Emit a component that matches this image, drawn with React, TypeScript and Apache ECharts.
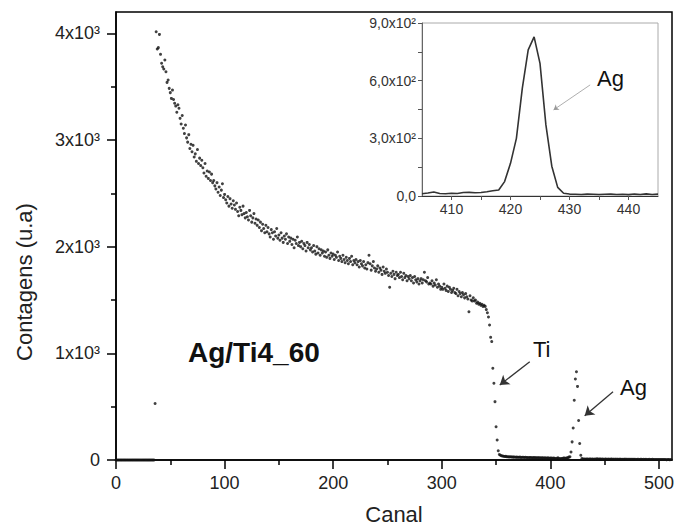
import React, { useEffect, useRef } from 'react';
import * as echarts from 'echarts';

// Channel segments (start channel + counts)
const leadStart = 0;
const leadCounts = [0,0,0,0,0,0,0,0,0,0,0,0,0,0,0,0,0,0,0,0,0,0,0,0,0,0,0,0,0,0,0,0,0,0,0,0];
const tiStart = 36;
const tiCounts = [
  530, 4015, 3853, 3866, 3990, 3803, 3720, 3687, 3665, 3750, 3640, 3540, 3562, 3484, 3444, 3390, 3468, 3380, 3344, 3318, 3260, 3330, 3297, 3203,
  3150, 3230, 3110, 3060, 3140, 3020, 2980, 3050, 2920, 2960,
  2890, 2950, 2840, 2870, 2800, 2910, 2780, 2830, 2760, 2810,
  2740, 2690, 2780, 2660, 2710, 2640, 2700, 2620, 2680, 2600,
  2620, 2570, 2540, 2600, 2510, 2560, 2480, 2530, 2590, 2460,
  2490, 2440, 2410, 2470, 2380, 2450, 2400, 2360, 2430, 2390,
  2350, 2410, 2330, 2290, 2370, 2340, 2300, 2380, 2310, 2270,
  2320, 2280, 2250, 2340, 2290, 2230, 2270, 2310, 2220, 2260,
  2200, 2250, 2180, 2230, 2150, 2210, 2170, 2130, 2200, 2140,
  2180, 2120, 2090, 2160, 2130, 2070, 2140, 2100, 2170, 2080,
  2110, 2060, 2130, 2080, 2040, 2100, 2070, 2120, 2030, 2090,
  2050, 2080, 2020, 2070, 1990, 2060, 2030, 2090, 2010, 2040,
  2000, 2050, 1980, 2030, 2010, 1960, 2040, 1990, 2020, 1970,
  1990, 1950, 2010, 1960, 1930, 2000, 1940, 1980, 1920, 1970,
  1940, 1960, 1910, 1950, 1900, 1970, 1920, 1890, 1940, 1910,
  1930, 1880, 1920, 1900, 1950, 1870, 1910, 1890, 1860, 1920,
  1880, 1850, 1900, 1870, 1840, 1890, 1860, 1910, 1830, 1870,
  1850, 1880, 1830, 1860, 1810, 1870, 1840, 1820, 1860, 1800,
  1830, 1790, 1850, 1920, 1840, 1780, 1820, 1860, 1800, 1770,
  1790, 1820, 1760, 1800, 1780, 1740, 1810, 1770, 1750, 1790,
  1760, 1730, 1620, 1750, 1720, 1770, 1740, 1700, 1760, 1730,
  1740, 1710, 1760, 1720, 1690, 1750, 1710, 1730, 1680, 1720,
  1700, 1730, 1680, 1710, 1660, 1720, 1690, 1670, 1700, 1650,
  1680, 1700, 1660, 1690, 1760, 1680, 1670, 1710, 1650, 1660,
  1650, 1680, 1630, 1660, 1640, 1690, 1620, 1650, 1630, 1600,
  1620, 1600, 1650, 1610, 1590, 1630, 1580, 1620, 1600, 1570,
  1590, 1610, 1570, 1560, 1600, 1540, 1580, 1560, 1530, 1570,
  1550, 1520, 1560, 1530, 1510, 1390, 1540, 1500, 1490, 1520,
  1490, 1500, 1470, 1480, 1460, 1470, 1450, 1460, 1440, 1450,
  1440, 1410, 1380, 1340, 1265, 1150, 1110, 860, 719, 547, 312, 187, 87, 52, 45, 40,
];
const gapStart = 356;
const gapCounts = [
  38, 35, 33, 34, 30, 31, 29, 30, 28, 29,
  27, 28, 26, 27, 25, 26, 27, 24, 25, 26,
  24, 25, 23, 24, 22, 24, 23, 21, 22, 23,
  21, 22, 20, 21, 22, 19, 20, 21, 19, 20,
  18, 19, 20, 17, 18, 19, 17, 18, 16,
  12, 16, 21, 13, 12, 14, 13, 18, 19, 17, 18, 22, 27, 31,
];
const agStart = 419;
const agCounts = [75, 170, 300, 560, 760, 828, 690, 370, 155, 45, 14];
const tailStart = 430;
const tailCounts = [
  10, 9, 8, 10, 9, 8, 9, 10, 8, 9,
  7, 10, 8, 11, 8, 10, 9, 8, 9, 7,
  8, 9, 7, 8, 8, 7, 9, 8, 7, 8,
  7, 8, 7, 6, 8, 7, 7, 6, 7, 8,
  6, 7, 7, 6, 7, 6, 6, 7, 6, 5,
  6, 6, 5, 7, 6, 5, 6, 5, 6, 5,
  5, 6, 5, 5, 6, 4, 5, 5, 4, 5,
  5, 4, 5, 4, 4, 5, 4, 3, 4, 4, 3, 4,
];

// Ticks
const xMajor = [0, 100, 200, 300, 400, 500];
const xMinor = [50, 150, 250, 350, 450];
const yMajor = [0, 1000, 2000, 3000, 4000];
const yMinor = [500, 1500, 2500, 3500];
const insetXLabels = [410, 420, 430, 440];
const insetXTicks = [410, 415, 420, 425, 430, 435, 440];
const insetYLabels = [0, 300, 600, 900];
const insetYTicks = [0, 150, 300, 450, 600, 750, 900];
const insetRange = [405, 445];

// Annotation arrows (data coordinates)
const tiArrow = [[381, 922], [353.4, 703]];
const agArrow = [[457.7, 640], [431.6, 415]];
const insetAgArrow = [[433.5, 578], [427.3, 448]];

const FONT = 'Liberation Sans, Arial, Helvetica, sans-serif';

function seg(start: number, arr: number[]) {
  return arr.map((c, k) => [start + k, c]);
}

export default function App() {
  const ref = useRef<HTMLDivElement>(null);
  useEffect(() => {
    const chart = echarts.init(ref.current!, null, { renderer: 'svg' });
    const mainData = [
      ...seg(leadStart, leadCounts),
      ...seg(tiStart, tiCounts),
      ...seg(gapStart, gapCounts),
      ...seg(agStart, agCounts),
      ...seg(tailStart, tailCounts),
    ];
    const insetData = mainData.filter((d) => d[0] >= insetRange[0] && d[0] <= insetRange[1]);
    const black = '#000';
    const mainRect = { left: 116, top: 12, right: 4, bottom: 66 };
    const option: any = {
      animation: false,
      backgroundColor: '#fff',
      textStyle: { fontFamily: FONT },
      grid: [
        { ...mainRect, show: true, borderColor: black, borderWidth: 1.5, outerBoundsMode: 'none' },
        { left: 422, top: 23, right: 18, bottom: 330, show: true, borderColor: '#aaa', borderWidth: 1, backgroundColor: '#fff', outerBoundsMode: 'none' },
        { ...mainRect, show: false, outerBoundsMode: 'none' },
      ],
      xAxis: [
        {
          type: 'value', gridIndex: 0, position: 'bottom', min: 0, max: 512,
          axisLine: { show: true, lineStyle: { color: black, width: 1.5 } },
          axisTick: { show: true, customValues: xMajor, length: 9, lineStyle: { color: black, width: 1.5 } },
          axisLabel: { customValues: xMajor, fontSize: 18, color: '#222', margin: 14, fontFamily: FONT },
          splitLine: { show: false },
        },
        {
          type: 'value', gridIndex: 1, position: 'bottom', min: insetRange[0], max: insetRange[1],
          axisLine: { show: true, lineStyle: { color: '#333', width: 1 } },
          axisTick: { show: true, customValues: insetXTicks, length: 4, lineStyle: { color: '#555', width: 1 } },
          axisLabel: { customValues: insetXLabels, fontSize: 14, color: '#333', margin: 6, fontFamily: FONT },
          splitLine: { show: false },
        },
        {
          type: 'value', gridIndex: 2, position: 'bottom', min: 0, max: 512,
          axisLine: { show: false },
          axisTick: { show: true, customValues: xMinor, length: 5, lineStyle: { color: black, width: 1.5 } },
          axisLabel: { show: false },
          splitLine: { show: false },
        },
      ],
      yAxis: [
        {
          type: 'value', gridIndex: 0, position: 'left', min: 0, max: 4200,
          axisLine: { show: true, lineStyle: { color: black, width: 1.5 } },
          axisTick: { show: true, customValues: yMajor, length: 9, lineStyle: { color: black, width: 1.5 } },
          axisLabel: {
            customValues: yMajor, fontSize: 18, color: '#222', margin: 16, fontFamily: FONT,
            formatter: (v: number) => (v === 0 ? '0' : `${v / 1000}x10³`),
          },
          splitLine: { show: false },
        },
        {
          type: 'value', gridIndex: 1, position: 'left', min: 0, max: 900,
          axisLine: { show: true, lineStyle: { color: '#666', width: 1 } },
          axisTick: { show: true, customValues: insetYTicks, length: 4, lineStyle: { color: '#555', width: 1 } },
          axisLabel: {
            customValues: insetYLabels, fontSize: 14, color: '#333', margin: 6, fontFamily: FONT,
            formatter: (v: number) => (v === 0 ? '0,0' : `${(v / 100).toFixed(1).replace('.', ',')}x10²`),
          },
          splitLine: { show: false },
        },
        {
          type: 'value', gridIndex: 2, position: 'left', min: 0, max: 4200,
          axisLine: { show: false },
          axisTick: { show: true, customValues: yMinor, length: 5, lineStyle: { color: black, width: 1.5 } },
          axisLabel: { show: false },
          splitLine: { show: false },
        },
      ],
      series: [
        {
          type: 'scatter', xAxisIndex: 0, yAxisIndex: 0, data: mainData,
          symbol: 'circle', symbolSize: 3, itemStyle: { color: '#111' }, silent: true,
          markLine: {
            silent: true, symbol: ['none', 'arrow'], symbolSize: 9, label: { show: false },
            lineStyle: { color: '#333', width: 1.3, type: 'solid' },
            data: [
              [{ coord: tiArrow[0] }, { coord: tiArrow[1] }],
              [{ coord: agArrow[0] }, { coord: agArrow[1] }],
            ],
          },
        },
        {
          type: 'line', xAxisIndex: 1, yAxisIndex: 1, data: insetData,
          showSymbol: false, symbol: 'none', lineStyle: { color: '#333', width: 1.6 }, silent: true,
          markLine: {
            silent: true, symbol: ['none', 'arrow'], symbolSize: 5, label: { show: false },
            lineStyle: { color: '#999', width: 0.8, type: 'solid' },
            data: [[{ coord: insetAgArrow[0] }, { coord: insetAgArrow[1] }]],
          },
        },
      ],
      graphic: [
        { type: 'text', x: 24, y: 282, rotation: Math.PI / 2, style: { text: 'Contagens (u.a)', fontSize: 22, fontFamily: FONT, fill: '#222', align: 'center', verticalAlign: 'middle' } },
        { type: 'text', x: 394, y: 514, style: { text: 'Canal', fontSize: 22, fontFamily: FONT, fill: '#222', align: 'center', verticalAlign: 'middle' } },
        { type: 'text', x: 188, y: 352, style: { text: 'Ag/Ti4_60', fontSize: 28, fontWeight: 'bold', fontFamily: FONT, fill: '#111', align: 'left', verticalAlign: 'middle' } },
        { type: 'text', x: 533, y: 349, style: { text: 'Ti', fontSize: 22, fontFamily: FONT, fill: '#111', align: 'left', verticalAlign: 'middle' } },
        { type: 'text', x: 620, y: 387, style: { text: 'Ag', fontSize: 22, fontFamily: FONT, fill: '#111', align: 'left', verticalAlign: 'middle' } },
        { type: 'text', x: 597, y: 78, style: { text: 'Ag', fontSize: 22, fontFamily: FONT, fill: '#111', align: 'left', verticalAlign: 'middle' } },
      ],
    };
    chart.setOption(option);
    return () => chart.dispose();
  }, []);
  return <div ref={ref} style={{ position: 'fixed', left: 0, top: 0, width: 676, height: 526, background: '#fff' }} />;
}
